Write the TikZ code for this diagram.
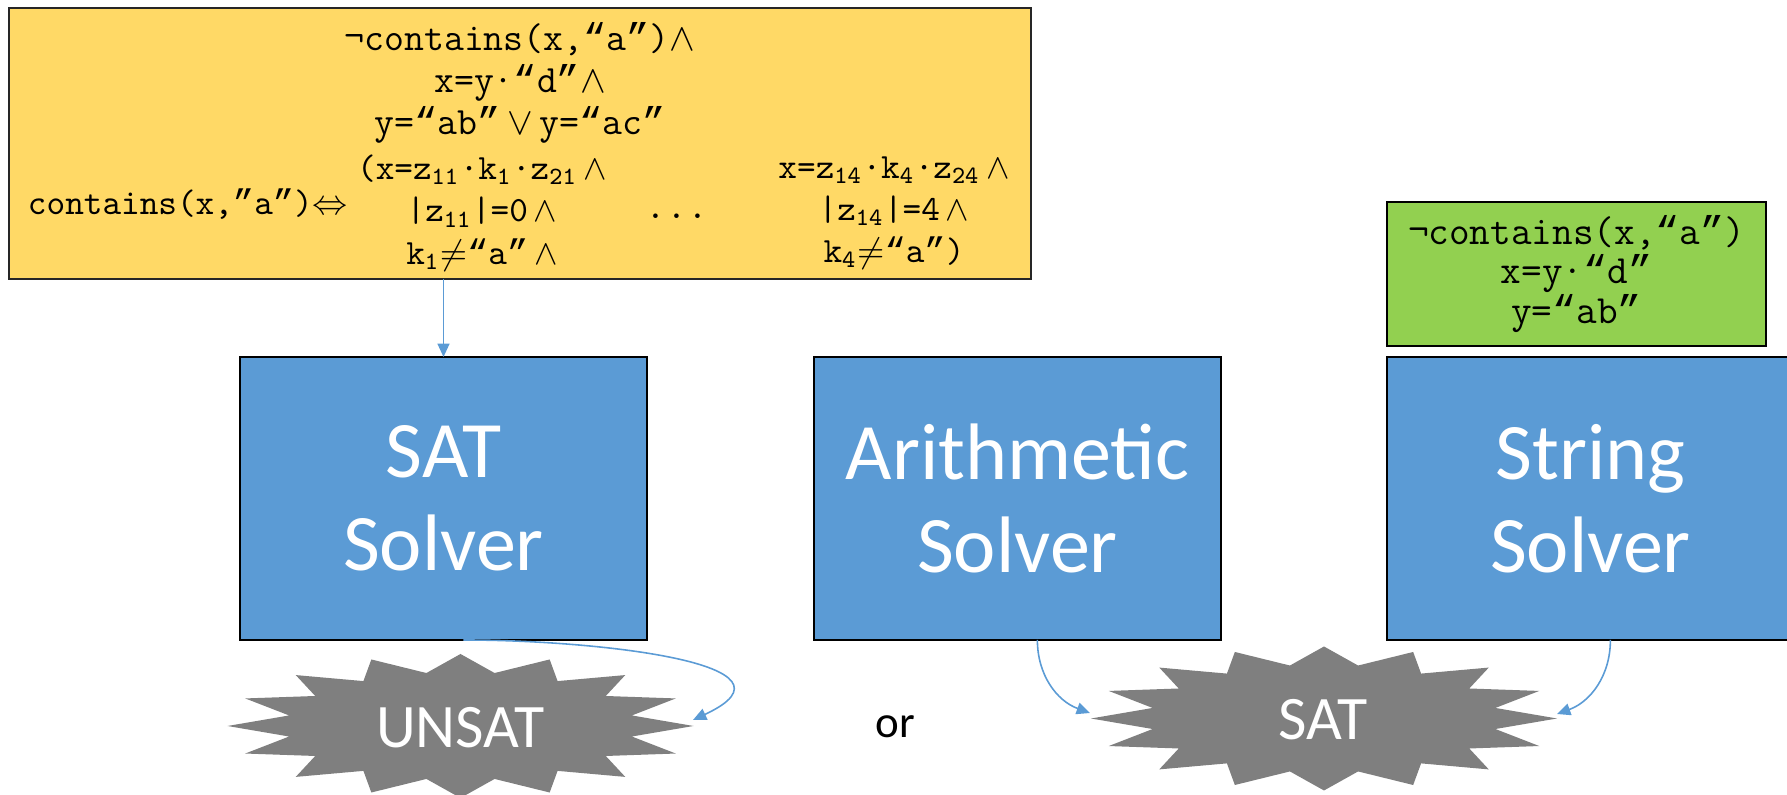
\documentclass[tikz,border=0pt]{standalone}
\usepackage{fontspec}
\setmainfont{Carlito}
\newfontfamily\quotefont{Liberation Mono}
\newcommand{\oq}{{\quotefont “}}
\newcommand{\cq}{{\quotefont ”}}
\usepackage{tikz,tkz-graph}
\usetikzlibrary{arrows.meta}
\definecolor{solverBlue}{HTML}{5B9BD5}
\definecolor{formulaGold}{HTML}{FFD966}
\definecolor{modelGreen}{HTML}{92D050}
\definecolor{burstGray}{HTML}{7F7F7F}
\tikzstyle{solverBox}=[shape = rectangle, minimum width = 4.07cm, minimum height = 2.83cm, inner sep = 0pt, draw = black, line width = 0.6pt, fill = solverBlue, text = white, align = center, font = \fontsize{22.8}{26.6}\selectfont]
\tikzstyle{formulaBox}=[shape = rectangle, minimum width = 10.22cm, minimum height = 2.71cm, inner sep = 0pt, draw = black!85, line width = 0.6pt, fill = formulaGold]
\tikzstyle{modelBox}=[shape = rectangle, minimum width = 3.79cm, minimum height = 1.44cm, inner sep = 0pt, draw = black, line width = 0.6pt, fill = modelGreen, align = center, font = \ttfamily\fontsize{11.4}{11.3}\selectfont]
\tikzstyle{link}=[draw = solverBlue, line width = 0.45pt, -{Triangle[length = 3.8pt, width = 3.4pt]}]
\newcommand{\burst}[1]{%
  \fill[burstGray, shift = {(#1)}] plot[variable = \q, samples at = {0,...,31}]
    ({(0.875+0.125*cos(180*\q))*2.33*sin(11.25*\q)}, {(0.875+0.125*cos(180*\q))*0.72*cos(11.25*\q)}) -- cycle;}

\begin{document}
\begin{tikzpicture}[scale = 1]
\tikzstyle{VertexStyle} = []
\tikzstyle{EdgeStyle} = []
\tikzstyle{topText}=[inner sep = 0pt, align = center, font = \ttfamily\fontsize{11}{12}\selectfont]
\tikzstyle{clauseText}=[inner sep = 0pt, align = center, font = \ttfamily\fontsize{10.1}{12}\selectfont]
\tikzstyle{lineText}=[inner sep = 0pt, anchor = base, font = \ttfamily\fontsize{10.1}{12}\selectfont]
\tikzstyle{burstText}=[inner sep = 0pt, text = white, font = \fontsize{17.6}{20}\selectfont]
\tikzstyle{orText}=[inner sep = 0pt, anchor = base, font = \fontsize{12.8}{15}\selectfont]
\useasboundingbox (0,0) rectangle (17.87,7.95);
\Vertex[style = formulaBox, x = 5.20, y = 6.515, NoLabel]{formula}
\Vertex[style = topText, x = 5.20, y = 7.12, L = {¬contains(x,\oq a\cq)$\wedge$\\x=y·\oq d\cq$\wedge$\\y=\oq ab\cq\,$\vee$\,y=\oq ac\cq}]{head}
\Vertex[style = lineText, x = 1.88, y = 5.80, L = {contains(x,\cq a\cq)$\Leftrightarrow$}]{iff}
\Vertex[style = clauseText, x = 4.82, y = 5.82, L = {(x=z\textsubscript{11}·k\textsubscript{1}·z\textsubscript{21}\,$\wedge$\\|z\textsubscript{11}|=0\,$\wedge$\\k\textsubscript{1}$\neq$\oq a\cq\,$\wedge$}]{first}
\Vertex[style = lineText, x = 6.77, y = 5.76, L = {\fontsize{11.5}{12}\selectfont ...}]{dots}
\Vertex[style = clauseText, x = 8.94, y = 5.82, L = {x=z\textsubscript{14}·k\textsubscript{4}·z\textsubscript{24}\,$\wedge$\\|z\textsubscript{14}|=4\,$\wedge$\\k\textsubscript{4}$\neq$\oq a\cq)}]{last}
\Vertex[style = modelBox, x = 15.765, y = 5.21, L = {¬contains(x,\oq a\cq)\\x=y·\oq d\cq\\y=\oq ab\cq}]{model}
\Vertex[style = solverBox, x = 4.435, y = 2.965, L = {SAT\\Solver}]{satsolver}
\Vertex[style = solverBox, x = 10.175, y = 2.965, L = {Arithmetic\\Solver}]{arithsolver}
\Vertex[style = solverBox, x = 15.905, y = 2.965, L = {String\\Solver}]{stringsolver}
\coordinate (unsatC) at (4.605, 0.69);
\coordinate (satC) at (13.24, 0.765);
\coordinate (unsatE) at (6.93, 0.75);
\coordinate (satW) at (10.90, 0.82);
\coordinate (satE) at (15.57, 0.81);
\burst{unsatC}
\burst{satC}
\Vertex[style = burstText, x = 4.605, y = 0.675, L = {UNSAT}]{unsat}
\Vertex[style = burstText, x = 13.235, y = 0.755, L = {SAT}]{satres}
\Vertex[style = orText, x = 8.95, y = 0.57, L = {or}]{orword}
\draw[link] (formula.south -| satsolver.north) -- (satsolver.north);
\draw[link] (satsolver.-82) to[out = 0, in = 25, looseness = 1.4] (unsatE);
\draw[link] (arithsolver.-82) to[out = -90, in = 160] (satW);
\draw[link] (stringsolver.-82) to[out = -90, in = 20] (satE);
\end{tikzpicture}
\end{document}
